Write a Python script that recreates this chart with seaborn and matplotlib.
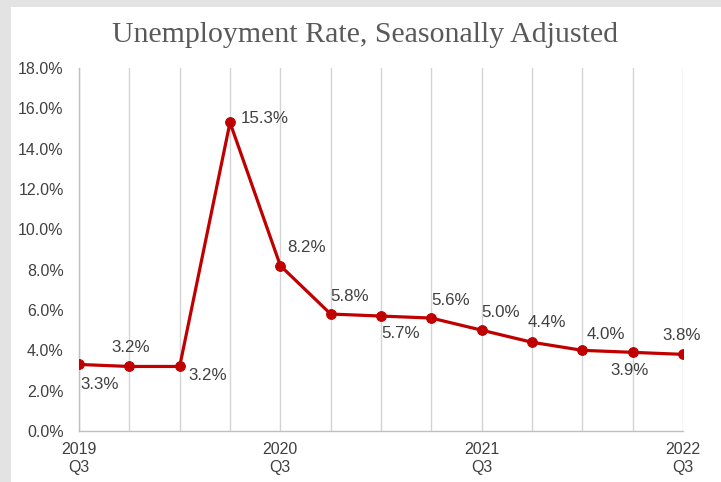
import matplotlib
matplotlib.use("Agg")
import matplotlib.pyplot as plt
import seaborn as sns
import pandas as pd
from matplotlib.patches import Rectangle

# Quarterly unemployment rate, 2019 Q3 to 2022 Q3
quarters = ["2019 Q3", "2019 Q4", "2020 Q1", "2020 Q2", "2020 Q3", "2020 Q4", "2021 Q1",
            "2021 Q2", "2021 Q3", "2021 Q4", "2022 Q1", "2022 Q2", "2022 Q3"]
rates = [3.3, 3.2, 3.2, 15.3, 8.2, 5.8, 5.7, 5.6, 5.0, 4.4, 4.0, 3.9, 3.8]
tick_labels = ["2019\nQ3", "", "", "", "2020\nQ3", "", "", "", "2021\nQ3", "", "", "", "2022\nQ3"]

df = pd.DataFrame({"idx": range(len(quarters)), "quarter": quarters, "rate": rates})

sns.set_style("white")
plt.rcParams["font.family"] = ["Liberation Sans", "DejaVu Sans"]

fig = plt.figure(figsize=(7.21, 4.82), dpi=100, facecolor="#e3e3e3")
# white panel inside the grey frame
fig.patches.append(Rectangle((11 / 721, 0), 1, 1 - 7 / 482, transform=fig.transFigure,
                             facecolor="white", edgecolor="none", zorder=-10))
ax = fig.add_axes([79 / 721, 51 / 482, 604 / 721, 363 / 482])
ax.set_facecolor("white")

sns.lineplot(data=df, x="idx", y="rate", ax=ax, color="#C00000", linewidth=2.3,
             marker="o", markersize=7, markeredgecolor="#C00000", zorder=3)

# label placement (dx, dy in points, ha, va)
offsets = [((1, -9), "left", "top"), ((1, 8), "center", "bottom"), ((6, -1), "left", "top"),
           ((8, 3), "left", "center"), ((5, 8), "left", "bottom"), ((0, 7), "left", "bottom"),
           ((0, -7), "left", "top"), ((0, 7), "left", "bottom"), ((0, 7), "left", "bottom"),
           ((-3, 9), "left", "bottom"), ((3, 6), "left", "bottom"), ((-2, -8), "center", "top"),
           ((-1, 8), "center", "bottom")]
for i, r in enumerate(rates):
    (dx, dy), ha, va = offsets[i]
    ax.annotate(f"{r:.1f}%", (i, r), xytext=(dx, dy), textcoords="offset points",
                ha=ha, va=va, fontsize=12.2, color="#404040")

ax.set_xlim(0, len(quarters) - 1)
ax.set_ylim(0, 18)
ax.set_xticks(range(len(quarters)))
ax.set_xticklabels(tick_labels)
ax.set_yticks(range(0, 19, 2))
ax.set_yticklabels([f"{v:.1f}%" for v in range(0, 19, 2)])
ax.tick_params(axis="both", labelsize=11.5, labelcolor="#404040", color="#bfbfbf",
               length=5, width=1, direction="out")
ax.tick_params(axis="y", pad=6)
ax.tick_params(axis="x", pad=3)

ax.xaxis.grid(True, color="#d4d4d4", linewidth=1)
ax.yaxis.grid(False)
for s in ["top", "right"]:
    ax.spines[s].set_visible(False)
for s in ["left", "bottom"]:
    ax.spines[s].set_color("#bfbfbf")
    ax.spines[s].set_linewidth(1)
ax.set_xlabel("")
ax.set_ylabel("")

fig.text(0.506, 0.927, "Unemployment Rate, Seasonally Adjusted", ha="center", va="center",
         fontsize=21.5, color="#595959", family="Liberation Serif")

fig.savefig("out.png", dpi=100, facecolor=fig.get_facecolor())
